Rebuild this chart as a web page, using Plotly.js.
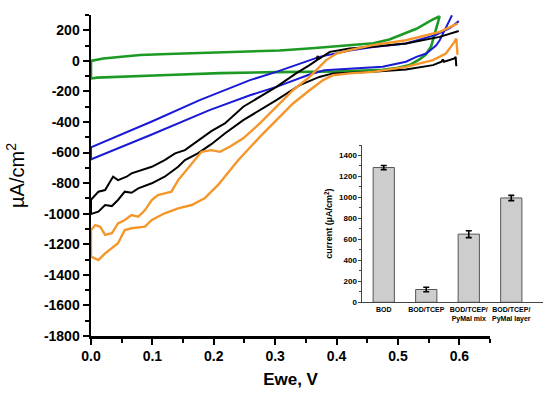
<!DOCTYPE html>
<html>
<head>
<meta charset="utf-8">
<script src="https://cdn.plot.ly/plotly-3.0.1.min.js"></script>
<style>html,body{margin:0;padding:0;background:#fff}#chart{width:550px;height:396px}</style>
</head>
<body>
<div id="chart"></div>
<script>
// ---- CV curves (potential V, current µA/cm²) ----
// forward = upper branch from 0 V upward; reverse = lower branch from high V back to 0 V
const greenFwdV = [0, 0.02, 0.044, 0.08, 0.125, 0.21, 0.259, 0.307, 0.36, 0.421, 0.46, 0.486, 0.502, 0.53, 0.554, 0.568];
const greenFwdI = [0, 15, 26, 38, 45, 55, 58, 68, 82, 100, 115, 140, 165, 210, 265, 292];
const greenRevV = [0.568, 0.566, 0.562, 0.554, 0.545, 0.535, 0.519, 0.5, 0.475, 0.44, 0.4, 0.3, 0.21, 0.125, 0.044, 0.01, 0];
const greenRevI = [292, 266, 200, 95, 40, 10, -28, -45, -58, -65, -70, -74, -80, -93, -104, -110, -115];

const blueFwdV = [0, 0.05, 0.1, 0.177, 0.259, 0.302, 0.35, 0.372, 0.421, 0.46, 0.513, 0.562, 0.585, 0.599];
const blueFwdI = [-565, -480, -395, -257, -126, -72, -5, 26, 68, 90, 113, 170, 215, 260];
const blueRevV = [0.588, 0.581, 0.575, 0.568, 0.562, 0.546, 0.53, 0.513, 0.475, 0.421, 0.38, 0.356, 0.302, 0.259, 0.193, 0.1, 0.05, 0];
const blueRevI = [298, 244, 190, 135, 100, 48, 26, -6, -39, -50, -62, -89, -170, -225, -322, -480, -562, -644];

const blackFwdV = [0, 0.001, 0.012, 0.023, 0.031, 0.036, 0.044, 0.058, 0.066, 0.085, 0.099, 0.12, 0.137, 0.153, 0.169, 0.196, 0.218, 0.248, 0.302, 0.334, 0.356, 0.368, 0.369, 0.371, 0.389, 0.421, 0.459, 0.513, 0.568, 0.599];
const blackFwdI = [-900, -904, -856, -845, -791, -758, -780, -758, -736, -714, -693, -649, -605, -584, -540, -460, -409, -300, -170, -82, -28, 5, 32, 12, 59, 81, 92, 114, 157, 195];
const blackRevV = [0.595, 0.594, 0.592, 0.585, 0.575, 0.573, 0.571, 0.557, 0.513, 0.459, 0.405, 0.394, 0.372, 0.34, 0.302, 0.248, 0.218, 0.196, 0.174, 0.153, 0.142, 0.12, 0.099, 0.077, 0.066, 0.055, 0.044, 0.034, 0.023, 0.012, 0];
const blackRevI = [-35, 26, 16, 5, -6, 9, -6, -28, -56, -72, -80, -82, -105, -159, -257, -388, -475, -545, -605, -649, -693, -758, -801, -834, -863, -856, -910, -950, -943, -987, -1002];

const orangeFwdV = [0, 0.007, 0.015, 0.023, 0.034, 0.044, 0.055, 0.066, 0.077, 0.088, 0.099, 0.109, 0.12, 0.131, 0.142, 0.153, 0.169, 0.18, 0.196, 0.21, 0.226, 0.248, 0.275, 0.302, 0.329, 0.356, 0.372, 0.383, 0.4, 0.421, 0.459, 0.513, 0.568, 0.597];
const orangeFwdI = [-1107, -1074, -1085, -1139, -1128, -1063, -1041, -1009, -1020, -976, -910, -878, -867, -856, -780, -725, -649, -595, -584, -595, -562, -507, -409, -300, -192, -105, -39, 5, 48, 70, 103, 135, 190, 244];
const orangeRevV = [0.597, 0.595, 0.592, 0.578, 0.557, 0.513, 0.459, 0.421, 0.394, 0.378, 0.356, 0.329, 0.302, 0.275, 0.24, 0.218, 0.207, 0.185, 0.164, 0.142, 0.12, 0.099, 0.088, 0.066, 0.055, 0.044, 0.034, 0.023, 0.012, 0];
const orangeRevI = [40, 146, 124, 48, 5, -39, -72, -82, -94, -126, -192, -279, -388, -497, -649, -758, -812, -899, -943, -965, -997, -1041, -1085, -1095, -1107, -1193, -1226, -1259, -1303, -1281];

// ---- inset bar chart ----
const barCategories = ["BOD", "BOD/TCEP", "BOD/TCEP/<br>PyMal mix", "BOD/TCEP/<br>PyMal layer"];
const barValues = [1285, 122, 650, 995];
const barErrors = [20, 22, 33, 25];

// ---- tick labels ----
const yTickVals = [-1800, -1600, -1400, -1200, -1000, -800, -600, -400, -200, 0, 200];
const yTickText = yTickVals.map(v => String(v));
const xTickVals = [0, 0.1, 0.2, 0.3, 0.4, 0.5, 0.6];
const xTickText = xTickVals.map(v => v.toFixed(1));

const FONT = "Arial, 'Liberation Sans', sans-serif";

function loop(fv, fi, rv, ri, color, w) {
  return {
    type: "scatter", mode: "lines",
    x: rv.concat(fv), y: ri.concat(fi),
    line: {color: color, width: w, shape: "linear"},
    xaxis: "x", yaxis: "y", hoverinfo: "skip", showlegend: false
  };
}

const traces = [
  loop(greenFwdV, greenFwdI, greenRevV, greenRevI, "#1c9a24", 2.6),
  loop(blueFwdV, blueFwdI, blueRevV, blueRevI, "#1a1ad6", 2),
  loop(blackFwdV, blackFwdI, blackRevV, blackRevI, "#000000", 2),
  loop(orangeFwdV, orangeFwdI, orangeRevV, orangeRevI, "#f5962a", 2.4),
  {
    type: "bar", x: [0, 1, 2, 3], y: barValues,
    width: 0.5,
    marker: {color: "#cdcdcd", line: {color: "#555555", width: 1}},
    error_y: {type: "data", array: barErrors, visible: true, color: "#000", thickness: 1.6, width: 3},
    xaxis: "x2", yaxis: "y2", hoverinfo: "skip", showlegend: false
  }
];

const layout = {
  width: 550, height: 396,
  margin: {l: 91, r: 5, t: 15, b: 60},
  paper_bgcolor: "#fff", plot_bgcolor: "rgba(0,0,0,0)",
  font: {family: FONT, color: "#000"},
  showlegend: false,
  xaxis: {
    domain: [0, 0.879], range: [0, 0.65],
    tickvals: xTickVals, ticktext: xTickText,
    tickfont: {size: 14, weight: "bold", family: FONT},
    ticks: "outside", ticklen: 6, tickwidth: 2, tickcolor: "#000",
    minor: {dtick: 0.05, tick0: 0, ticks: "outside", ticklen: 4, tickwidth: 2, tickcolor: "#000"},
    showline: true, linecolor: "#000", linewidth: 2.5,
    showgrid: false, zeroline: false,
    title: {text: "Ewe, V", font: {size: 17, weight: "bold", family: FONT}, standoff: 10},
    anchor: "y"
  },
  yaxis: {
    domain: [0, 1], range: [-1800, 300],
    tickvals: yTickVals, ticktext: yTickText,
    tickfont: {size: 14, weight: "bold", family: FONT},
    ticks: "outside", ticklen: 6, tickwidth: 2, tickcolor: "#000",
    minor: {dtick: 100, tick0: 0, ticks: "outside", ticklen: 4, tickwidth: 2, tickcolor: "#000"},
    showline: true, linecolor: "#000", linewidth: 2.5,
    showgrid: false, zeroline: false,
    title: {text: "µA/cm<sup>2</sup>", font: {size: 20, family: FONT}, standoff: 14},
    anchor: "x"
  },
  xaxis2: {
    domain: [0.598, 0.995], range: [-0.5, 3.74],
    tickvals: [0, 1, 2, 3], ticktext: barCategories,
    tickangle: 0,
    tickfont: {size: 7, weight: "bold", family: FONT},
    ticks: "", showline: true, linecolor: "#444", linewidth: 1,
    showgrid: false, zeroline: false, anchor: "y2"
  },
  yaxis2: {
    domain: [0.105, 0.595], range: [0, 1500],
    dtick: 200, tick0: 0,
    tickfont: {size: 8, weight: "bold", family: FONT},
    ticks: "outside", ticklen: 3, tickwidth: 1, tickcolor: "#444",
    minor: {dtick: 100, ticks: "outside", ticklen: 2, tickwidth: 1, tickcolor: "#444"},
    showline: true, linecolor: "#444", linewidth: 1,
    showgrid: false, zeroline: false,
    title: {text: "current (µA/cm<sup>2</sup>)", font: {size: 9, weight: "bold", family: FONT}, standoff: 4},
    anchor: "x2"
  }
};

Plotly.newPlot("chart", traces, layout, {staticPlot: true, displayModeBar: false});
</script>
</body>
</html>
